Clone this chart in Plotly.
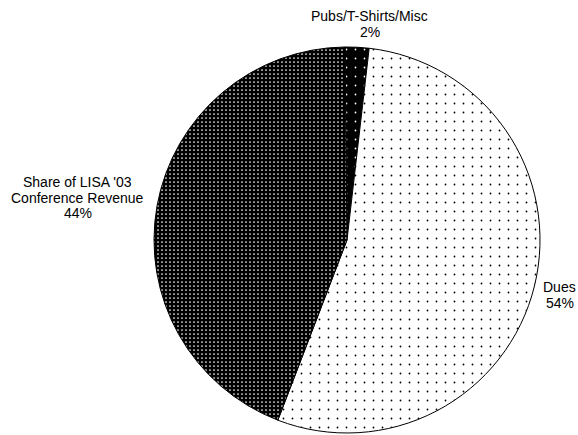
import plotly.graph_objects as go

labels = ["Pubs/T-Shirts/Misc", "Dues", "Share of LISA '03<br>Conference Revenue"]
values = [2, 54, 44]

bg_colors = ["#000000", "#ffffff", "#000000"]
fg_colors = ["#ffffff", "#000000", "#ffffff"]
pattern_sizes = [9, 9, 4]
pattern_solidity = [0.03, 0.03, 0.15]

# label anchor positions in page pixels (centre x, baseline of first line)
label_pos = [(369.5, 21), (559.5, 292), (77.5, 187)]
LINE_STEP = 15.5
FONT = dict(family="Liberation Sans, Arial, sans-serif", size=14, color="#000000")

W, H = 578, 435

fig = go.Figure(
    go.Pie(
        labels=labels,
        values=values,
        sort=False,
        direction="clockwise",
        rotation=-0.6,
        textinfo="none",
        marker=dict(
            colors=bg_colors,
            line=dict(color="#000000", width=1),
            pattern=dict(
                shape=".",
                fgcolor=fg_colors,
                bgcolor=bg_colors,
                size=pattern_sizes,
                solidity=pattern_solidity,
            ),
        ),
        domain=dict(x=[0.2664, 0.9343], y=[0.0046, 0.8920]),
        showlegend=False,
        hoverinfo="label+percent",
    )
)

total = sum(values)
annotations = []
for lab, val, (px, py) in zip(labels, values, label_pos):
    lines = lab.split("<br>") + [f"{round(100 * val / total)}%"]
    for i, line in enumerate(lines):
        by = py + i * LINE_STEP - 5
        annotations.append(
            dict(
                text=line,
                x=px / W,
                y=1 - by / H,
                xref="paper",
                yref="paper",
                xanchor="center",
                yanchor="middle",
                showarrow=False,
                font=FONT,
            )
        )

fig.update_layout(
    width=W,
    height=H,
    margin=dict(l=0, r=0, t=0, b=0),
    paper_bgcolor="#ffffff",
    plot_bgcolor="#ffffff",
    annotations=annotations,
)

fig.write_html(
    "out.html",
    config={"displayModeBar": False},
    post_script="document.body.style.margin='0';document.body.style.overflow='hidden';",
)
